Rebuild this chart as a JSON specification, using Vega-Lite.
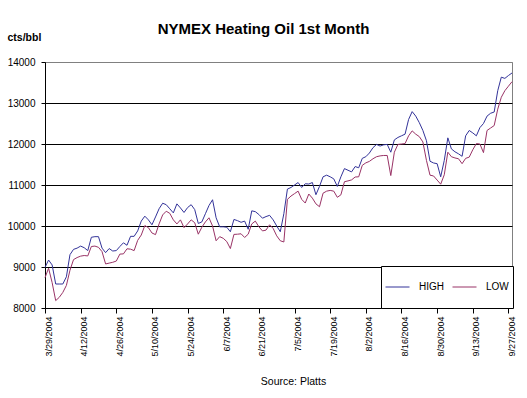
{
  "$schema": "https://vega.github.io/schema/vega-lite/v6.json",
  "width": 467,
  "height": 246,
  "autosize": {"type": "none"},
  "padding": {"left": 45, "top": 62, "right": 15, "bottom": 90},
  "background": "white",
  "title": {
    "text": "NYMEX Heating Oil 1st Month",
    "font": "Liberation Sans",
    "fontSize": 15,
    "fontWeight": "bold",
    "color": "black",
    "anchor": "middle",
    "frame": "group",
    "dx": -15,
    "dy": 9
  },
  "data": {
    "values": [
      {"date": "3/29/2004", "HIGH": 8990, "LOW": 8740},
      {"date": "3/30/2004", "HIGH": 9170, "LOW": 8970},
      {"date": "3/31/2004", "HIGH": 9050, "LOW": 8620},
      {"date": "4/1/2004", "HIGH": 8585, "LOW": 8180},
      {"date": "4/2/2004", "HIGH": 8585, "LOW": 8260},
      {"date": "4/5/2004", "HIGH": 8585, "LOW": 8380},
      {"date": "4/6/2004", "HIGH": 8760, "LOW": 8550},
      {"date": "4/7/2004", "HIGH": 9300, "LOW": 8920},
      {"date": "4/8/2004", "HIGH": 9430, "LOW": 9180},
      {"date": "4/9/2004", "HIGH": 9460, "LOW": 9230},
      {"date": "4/12/2004", "HIGH": 9510, "LOW": 9265},
      {"date": "4/13/2004", "HIGH": 9470, "LOW": 9280},
      {"date": "4/14/2004", "HIGH": 9400, "LOW": 9270},
      {"date": "4/15/2004", "HIGH": 9725, "LOW": 9500},
      {"date": "4/16/2004", "HIGH": 9740, "LOW": 9510},
      {"date": "4/19/2004", "HIGH": 9740, "LOW": 9480},
      {"date": "4/20/2004", "HIGH": 9460, "LOW": 9375},
      {"date": "4/21/2004", "HIGH": 9350, "LOW": 9075},
      {"date": "4/22/2004", "HIGH": 9450, "LOW": 9095},
      {"date": "4/23/2004", "HIGH": 9390, "LOW": 9115},
      {"date": "4/26/2004", "HIGH": 9400, "LOW": 9145},
      {"date": "4/27/2004", "HIGH": 9500, "LOW": 9315},
      {"date": "4/28/2004", "HIGH": 9590, "LOW": 9320},
      {"date": "4/29/2004", "HIGH": 9530, "LOW": 9444},
      {"date": "4/30/2004", "HIGH": 9748, "LOW": 9435},
      {"date": "5/3/2004", "HIGH": 9748, "LOW": 9400},
      {"date": "5/4/2004", "HIGH": 9880, "LOW": 9650},
      {"date": "5/5/2004", "HIGH": 10120, "LOW": 9780},
      {"date": "5/6/2004", "HIGH": 10240, "LOW": 10010},
      {"date": "5/7/2004", "HIGH": 10150, "LOW": 9960},
      {"date": "5/10/2004", "HIGH": 10030, "LOW": 9830},
      {"date": "5/11/2004", "HIGH": 10220, "LOW": 9790},
      {"date": "5/12/2004", "HIGH": 10420, "LOW": 10050},
      {"date": "5/13/2004", "HIGH": 10555, "LOW": 10270},
      {"date": "5/14/2004", "HIGH": 10520, "LOW": 10360},
      {"date": "5/17/2004", "HIGH": 10420, "LOW": 10309},
      {"date": "5/18/2004", "HIGH": 10320, "LOW": 10150},
      {"date": "5/19/2004", "HIGH": 10540, "LOW": 10050},
      {"date": "5/20/2004", "HIGH": 10440, "LOW": 10150},
      {"date": "5/21/2004", "HIGH": 10330, "LOW": 9960},
      {"date": "5/24/2004", "HIGH": 10450, "LOW": 10050},
      {"date": "5/25/2004", "HIGH": 10520, "LOW": 10150},
      {"date": "5/26/2004", "HIGH": 10400, "LOW": 10080},
      {"date": "5/27/2004", "HIGH": 10062, "LOW": 9800},
      {"date": "5/28/2004", "HIGH": 10100, "LOW": 9970},
      {"date": "5/31/2004", "HIGH": 10300, "LOW": 10100},
      {"date": "6/1/2004", "HIGH": 10500, "LOW": 10200},
      {"date": "6/2/2004", "HIGH": 10640, "LOW": 10000},
      {"date": "6/3/2004", "HIGH": 10200, "LOW": 9640},
      {"date": "6/4/2004", "HIGH": 9980, "LOW": 9740},
      {"date": "6/7/2004", "HIGH": 9980, "LOW": 9700},
      {"date": "6/8/2004", "HIGH": 9970, "LOW": 9620},
      {"date": "6/9/2004", "HIGH": 9860, "LOW": 9450},
      {"date": "6/10/2004", "HIGH": 10160, "LOW": 9795},
      {"date": "6/11/2004", "HIGH": 10130, "LOW": 9800},
      {"date": "6/14/2004", "HIGH": 10090, "LOW": 9810},
      {"date": "6/15/2004", "HIGH": 10120, "LOW": 9720},
      {"date": "6/16/2004", "HIGH": 9920, "LOW": 9800},
      {"date": "6/17/2004", "HIGH": 10370, "LOW": 10050},
      {"date": "6/18/2004", "HIGH": 10350, "LOW": 10120},
      {"date": "6/21/2004", "HIGH": 10280, "LOW": 9980},
      {"date": "6/22/2004", "HIGH": 10190, "LOW": 9880},
      {"date": "6/23/2004", "HIGH": 10230, "LOW": 9900},
      {"date": "6/24/2004", "HIGH": 10260, "LOW": 10030},
      {"date": "6/25/2004", "HIGH": 10150, "LOW": 9940},
      {"date": "6/28/2004", "HIGH": 10000, "LOW": 9760},
      {"date": "6/29/2004", "HIGH": 9860, "LOW": 9640},
      {"date": "6/30/2004", "HIGH": 10300, "LOW": 9610},
      {"date": "7/1/2004", "HIGH": 10900, "LOW": 10650},
      {"date": "7/2/2004", "HIGH": 10940, "LOW": 10730},
      {"date": "7/5/2004", "HIGH": 11000, "LOW": 10790},
      {"date": "7/6/2004", "HIGH": 11060, "LOW": 10850},
      {"date": "7/7/2004", "HIGH": 10940, "LOW": 10650},
      {"date": "7/8/2004", "HIGH": 11030, "LOW": 10560},
      {"date": "7/9/2004", "HIGH": 11024, "LOW": 10780},
      {"date": "7/12/2004", "HIGH": 11060, "LOW": 10680},
      {"date": "7/13/2004", "HIGH": 10763, "LOW": 10540},
      {"date": "7/14/2004", "HIGH": 10966, "LOW": 10470},
      {"date": "7/15/2004", "HIGH": 11200, "LOW": 10800},
      {"date": "7/16/2004", "HIGH": 11240, "LOW": 10850},
      {"date": "7/19/2004", "HIGH": 11200, "LOW": 10868},
      {"date": "7/20/2004", "HIGH": 11150, "LOW": 10850},
      {"date": "7/21/2004", "HIGH": 10966, "LOW": 10700},
      {"date": "7/22/2004", "HIGH": 11200, "LOW": 10760},
      {"date": "7/23/2004", "HIGH": 11400, "LOW": 11080},
      {"date": "7/26/2004", "HIGH": 11360, "LOW": 11100},
      {"date": "7/27/2004", "HIGH": 11320, "LOW": 11125},
      {"date": "7/28/2004", "HIGH": 11450, "LOW": 11195},
      {"date": "7/29/2004", "HIGH": 11420, "LOW": 11200},
      {"date": "7/30/2004", "HIGH": 11650, "LOW": 11480},
      {"date": "8/2/2004", "HIGH": 11690, "LOW": 11540},
      {"date": "8/3/2004", "HIGH": 11780, "LOW": 11576},
      {"date": "8/4/2004", "HIGH": 11910, "LOW": 11640},
      {"date": "8/5/2004", "HIGH": 11990, "LOW": 11690},
      {"date": "8/6/2004", "HIGH": 11950, "LOW": 11710},
      {"date": "8/9/2004", "HIGH": 11980, "LOW": 11720},
      {"date": "8/10/2004", "HIGH": 11990, "LOW": 11720},
      {"date": "8/11/2004", "HIGH": 11800, "LOW": 11230},
      {"date": "8/12/2004", "HIGH": 12100, "LOW": 11800},
      {"date": "8/13/2004", "HIGH": 12160, "LOW": 11990},
      {"date": "8/16/2004", "HIGH": 12200, "LOW": 12000},
      {"date": "8/17/2004", "HIGH": 12240, "LOW": 12010},
      {"date": "8/18/2004", "HIGH": 12600, "LOW": 12200},
      {"date": "8/19/2004", "HIGH": 12790, "LOW": 12320},
      {"date": "8/20/2004", "HIGH": 12680, "LOW": 12240},
      {"date": "8/23/2004", "HIGH": 12520, "LOW": 12180},
      {"date": "8/24/2004", "HIGH": 12330, "LOW": 12050},
      {"date": "8/25/2004", "HIGH": 12080, "LOW": 11600},
      {"date": "8/26/2004", "HIGH": 11580, "LOW": 11240},
      {"date": "8/27/2004", "HIGH": 11537, "LOW": 11220},
      {"date": "8/30/2004", "HIGH": 11520, "LOW": 11120},
      {"date": "8/31/2004", "HIGH": 11200, "LOW": 11020},
      {"date": "9/1/2004", "HIGH": 11600, "LOW": 11250},
      {"date": "9/2/2004", "HIGH": 12150, "LOW": 11800},
      {"date": "9/3/2004", "HIGH": 11880, "LOW": 11690},
      {"date": "9/6/2004", "HIGH": 11810, "LOW": 11660},
      {"date": "9/7/2004", "HIGH": 11760, "LOW": 11640},
      {"date": "9/8/2004", "HIGH": 11700, "LOW": 11520},
      {"date": "9/9/2004", "HIGH": 12200, "LOW": 11650},
      {"date": "9/10/2004", "HIGH": 12330, "LOW": 11680},
      {"date": "9/13/2004", "HIGH": 12270, "LOW": 11860},
      {"date": "9/14/2004", "HIGH": 12200, "LOW": 12010},
      {"date": "9/15/2004", "HIGH": 12400, "LOW": 12000},
      {"date": "9/16/2004", "HIGH": 12500, "LOW": 11790},
      {"date": "9/17/2004", "HIGH": 12680, "LOW": 12330},
      {"date": "9/20/2004", "HIGH": 12750, "LOW": 12390},
      {"date": "9/21/2004", "HIGH": 12780, "LOW": 12450},
      {"date": "9/22/2004", "HIGH": 13300, "LOW": 12850},
      {"date": "9/23/2004", "HIGH": 13630, "LOW": 13140},
      {"date": "9/24/2004", "HIGH": 13600, "LOW": 13300},
      {"date": "9/27/2004", "HIGH": 13670, "LOW": 13410},
      {"date": "9/28/2004", "HIGH": 13732, "LOW": 13520}
    ]
  },
  "transform": [{"fold": ["HIGH", "LOW"], "as": ["series", "value"]}],
  "mark": {"type": "line", "strokeWidth": 1},
  "encoding": {
    "x": {
      "field": "date",
      "type": "nominal",
      "sort": null,
      "scale": {"type": "point", "padding": 0},
      "axis": {
        "values": ["3/29/2004", "4/12/2004", "4/26/2004", "5/10/2004", "5/24/2004", "6/7/2004", "6/21/2004", "7/5/2004", "7/19/2004", "8/2/2004", "8/16/2004", "8/30/2004", "9/13/2004", "9/27/2004"],
        "labelAngle": -90,
        "labelFont": "Liberation Sans",
        "labelFontSize": 9,
        "labelColor": "black",
        "labelPadding": 3,
        "labelOffset": 3,
        "labelOverlap": false,
        "tickSize": 5,
        "tickColor": "black",
        "domainColor": "black",
        "grid": false,
        "title": "Source: Platts",
        "titleFont": "Liberation Sans",
        "titleFontWeight": "normal",
        "titleFontSize": 10.5,
        "titleColor": "black",
        "titleX": 248,
        "titleY": 73,
        "titleAlign": "center",
        "titleBaseline": "middle"
      }
    },
    "y": {
      "field": "value",
      "type": "quantitative",
      "scale": {"domain": [8000, 14000], "nice": false, "zero": false},
      "axis": {
        "values": [8000, 9000, 10000, 11000, 12000, 13000, 14000],
        "format": "d",
        "labelFont": "Liberation Sans",
        "labelFontSize": 10,
        "labelColor": "black",
        "labelPadding": 6,
        "tickSize": 4,
        "tickColor": "black",
        "domainColor": "black",
        "grid": true,
        "gridColor": {"condition": {"test": "datum.value === 14000", "value": "#808080"}, "value": "black"},
        "gridOpacity": 1,
        "title": "cts/bbl",
        "titleFont": "Liberation Sans",
        "titleFontSize": 10.5,
        "titleFontWeight": "bold",
        "titleColor": "black",
        "titleAngle": 0,
        "titleAlign": "left",
        "titleBaseline": "middle",
        "titleX": -38,
        "titleY": -25
      }
    },
    "color": {
      "field": "series",
      "type": "nominal",
      "scale": {"domain": ["HIGH", "LOW"], "range": ["#333399", "#993366"]},
      "legend": {
        "title": null,
        "orient": "none",
        "legendX": 336,
        "legendY": 204,
        "direction": "horizontal",
        "symbolType": "stroke",
        "symbolSize": 576,
        "symbolStrokeWidth": 1,
        "labelFont": "Liberation Sans",
        "labelFontSize": 10,
        "labelColor": "black",
        "labelOffset": 9,
        "columnPadding": 8,
        "padding": 4,
        "clipHeight": 34,
        "strokeColor": "black",
        "fillColor": "white",
        "cornerRadius": 0
      }
    },
    "order": {"value": null}
  },
  "config": {
    "view": {"stroke": "#808080", "strokeWidth": 1},
    "font": "Liberation Sans"
  }
}
